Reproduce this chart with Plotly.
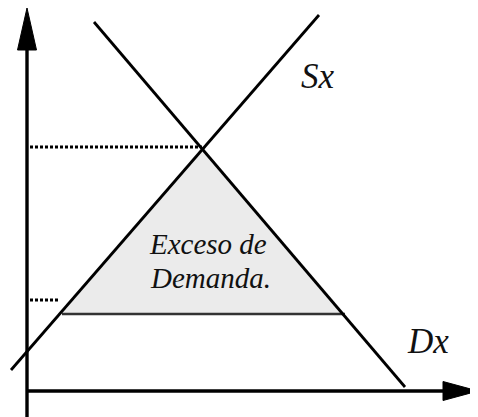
import plotly.graph_objects as go

# Model coordinates: Q (quantity) horizontally, P (price) vertically
demand_q = [67, 378]
demand_p = [369, 4]
supply_q = [-16, 292]
supply_p = [21, 376]
eq_q, eq_p = 175, 244           # equilibrium (upper dotted level)
low_p = 77                       # price level of the excess-demand base
low_q = [35, 318]                # supply / demand quantities at low_p
dot_low_p = 91                   # lower dotted level
dot_low_q = 33
axis_x = [0, 451]                # horizontal axis extent
axis_y = [-34, 383]              # vertical axis extent

labels = {"Sx": (291, 315), "Dx": (401, 50)}
inner_text = [("Exceso de", 181, 147), ("Demanda.", 183, 113)]

# page body has an 8px margin; ranges compensate for it
X_RANGE = [-19, 459]
Y_RANGE = [-34, 383]

fig = go.Figure()

# shaded triangle of excess demand
fig.add_trace(go.Scatter(
    x=[low_q[0], eq_q, low_q[1], low_q[0]],
    y=[low_p, eq_p, low_p, low_p],
    fill="toself", fillcolor="#ebebeb", mode="lines",
    line=dict(width=0), hoverinfo="skip"))

# base line of triangle
fig.add_trace(go.Scatter(x=low_q, y=[low_p, low_p], mode="lines",
                         line=dict(color="#333333", width=2.4)))

# dotted guides
fig.add_trace(go.Scatter(x=[3, eq_q], y=[eq_p, eq_p], mode="lines",
                         line=dict(color="black", width=3, dash="3px,2px")))
fig.add_trace(go.Scatter(x=[3, dot_low_q], y=[dot_low_p, dot_low_p], mode="lines",
                         line=dict(color="black", width=3, dash="3px,2px")))

# supply and demand
fig.add_trace(go.Scatter(x=demand_q, y=demand_p, mode="lines",
                         line=dict(color="black", width=2.8)))
fig.add_trace(go.Scatter(x=supply_q, y=supply_p, mode="lines",
                         line=dict(color="black", width=2.8)))

# axes
fig.add_trace(go.Scatter(x=[0, 0], y=[axis_y[0], axis_y[1] - 30], mode="lines",
                         line=dict(color="black", width=3.4)))
fig.add_trace(go.Scatter(x=[axis_x[0], axis_x[1] - 25], y=[0, 0], mode="lines",
                         line=dict(color="black", width=3.4)))
# arrowheads
fig.add_trace(go.Scatter(x=[-9.5, 0, 9.5, -9.5],
                         y=[axis_y[1] - 42, axis_y[1], axis_y[1] - 42, axis_y[1] - 42],
                         fill="toself", fillcolor="black", mode="lines",
                         line=dict(color="black", width=1)))
fig.add_trace(go.Scatter(x=[axis_x[1] - 35, axis_x[1], axis_x[1] - 35, axis_x[1] - 35],
                         y=[9.5, 0, -9.5, 9.5],
                         fill="toself", fillcolor="black", mode="lines",
                         line=dict(color="black", width=1)))

for t, (qx, py) in labels.items():
    fig.add_annotation(x=qx, y=py, text=t, showarrow=False,
                       font=dict(family="Liberation Serif", size=35, color="#111111", style="italic"))
for t, qx, py in inner_text:
    fig.add_annotation(x=qx, y=py, text=t, showarrow=False,
                       font=dict(family="Liberation Serif", size=29, color="#111111", style="italic"))

fig.update_layout(
    width=478, height=417, autosize=False,
    margin=dict(l=0, r=0, t=0, b=0),
    paper_bgcolor="white", plot_bgcolor="white",
    showlegend=False,
    xaxis=dict(range=X_RANGE, visible=False, fixedrange=True),
    yaxis=dict(range=Y_RANGE, visible=False, fixedrange=True),
)

fig.write_html("out.html")
